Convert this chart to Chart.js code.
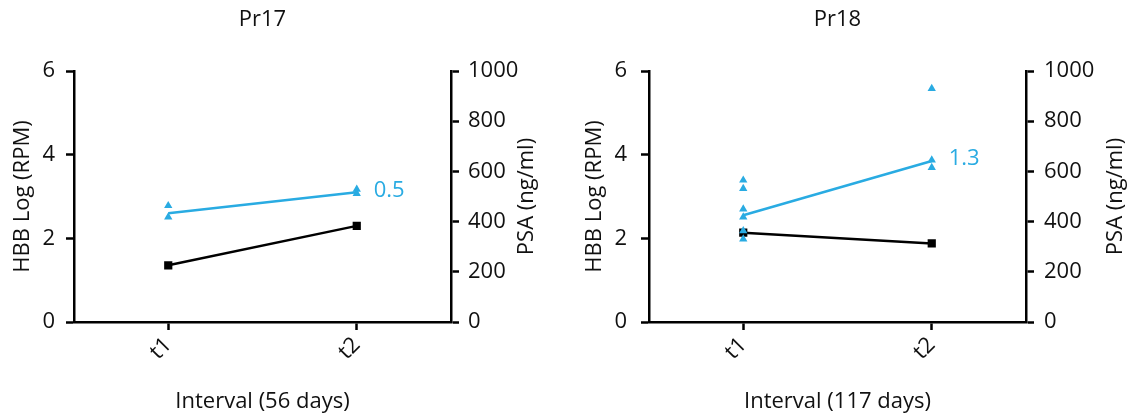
<!DOCTYPE html>
<html>
<head>
<meta charset="utf-8">
<script src="https://cdn.jsdelivr.net/npm/chart.js@4.4.1/dist/chart.umd.min.js"></script>
<style>
  html, body { margin: 0; padding: 0; background: #fff; }
  #wrap { position: relative; width: 1132px; height: 419px; }
  canvas { position: absolute; top: 0; }
  #pr17 { left: 0; }
  #pr18 { left: 566px; }
</style>
</head>
<body>
<div id="wrap">
  <canvas id="pr17" width="566" height="419"></canvas>
  <canvas id="pr18" width="566" height="419"></canvas>
</div>
<script>
const timepoints = ['t1', 't2'];
const hbbTicks = [0, 2, 4, 6];
const psaTicks = [0, 200, 400, 600, 800, 1000];

// Pr17: HBB replicates at each time point, line through their centre, PSA
const pr17HbbT1 = [2.78, 2.51];
const pr17HbbT2 = [3.17, 3.07];
const pr17HbbLine = [2.6, 3.1];
const pr17Psa = [226, 383];

// Pr18
const pr18HbbT1 = [3.39, 3.19, 2.70, 2.51, 2.18, 1.98];
const pr18HbbT2 = [5.58, 3.87, 3.69];
const pr18HbbLine = [2.55, 3.85];
const pr18Psa = [356, 313];

const BLUE = '#29abe2';
const INK = '#111';
const FONT = "'Open Sans', sans-serif";

Chart.defaults.font.family = FONT;
Chart.defaults.font.size = 22;
Chart.defaults.color = INK;

// titles above the plot, the right axis title (bottom-to-top) and the HBB change label
const annotate = {
  id: 'annotate',
  afterDraw(chart, args, opts) {
    const { ctx, chartArea } = chart;
    ctx.save();
    ctx.font = '22px ' + FONT;
    ctx.fillStyle = INK;
    ctx.textAlign = 'center';
    ctx.textBaseline = 'middle';
    ctx.fillText(opts.title, (chartArea.left + chartArea.right) / 2, opts.titleY);

    const line = chart.getDatasetMeta(1).data;
    const end = line[line.length - 1];
    ctx.fillStyle = BLUE;
    ctx.textAlign = 'left';
    ctx.fillText(opts.change, end.x + 17, end.y - 2);

    ctx.fillStyle = INK;
    ctx.textAlign = 'center';
    ctx.translate(opts.psaTitleX, (chartArea.top + chartArea.bottom) / 2);
    ctx.rotate(-Math.PI / 2);
    ctx.fillText('PSA (ng/ml)', 0, 0);
    ctx.restore();
  }
};

const axisGrid = {
  drawOnChartArea: false,
  drawTicks: true,
  tickLength: 8,
  tickColor: '#000',
  tickWidth: 2.5
};
const axisBorder = { color: '#000', width: 2.5 };
const plainNumber = v => String(v);

function drawPanel(id, title, xTitle, hbbT1, hbbT2, hbbLine, psa, box) {
  const replicates = [
    ...hbbT1.map(y => ({ x: timepoints[0], y })),
    ...hbbT2.map(y => ({ x: timepoints[1], y }))
  ];
  const change = (hbbLine[1] - hbbLine[0]).toFixed(1);

  new Chart(document.getElementById(id), {
    type: 'line',
    data: {
      labels: timepoints,
      datasets: [
        {
          label: 'HBB',
          data: replicates,
          yAxisID: 'hbb',
          showLine: false,
          pointStyle: 'triangle',
          pointRadius: 4.8,
          pointBackgroundColor: BLUE,
          pointBorderColor: BLUE,
          pointBorderWidth: 0,
          order: 0
        },
        {
          label: 'HBB centre',
          data: hbbLine,
          yAxisID: 'hbb',
          borderColor: BLUE,
          borderWidth: 2.5,
          pointRadius: 0,
          order: 1
        },
        {
          label: 'PSA',
          data: psa,
          yAxisID: 'psa',
          borderColor: '#000',
          borderWidth: 2.5,
          pointStyle: 'rect',
          pointRadius: 5.8,
          pointBackgroundColor: '#000',
          pointBorderColor: '#000',
          pointBorderWidth: 0,
          order: 2
        }
      ]
    },
    options: {
      responsive: false,
      animation: false,
      layout: { padding: { top: 71, left: 0, right: 0, bottom: 0 } },
      plugins: {
        legend: { display: false },
        tooltip: { enabled: false },
        annotate: { title, change, titleY: 20, psaTitleX: box.psaTitleX }
      },
      scales: {
        x: {
          type: 'category',
          offset: true,
          grid: axisGrid,
          border: axisBorder,
          ticks: { minRotation: 45, maxRotation: 45, padding: 2 },
          title: { display: true, text: xTitle, padding: { top: 0, bottom: 4 } },
          afterFit(s) { s.height = 97; }
        },
        hbb: {
          type: 'linear',
          position: 'left',
          min: 0,
          max: 6,
          afterBuildTicks(s) { s.ticks = hbbTicks.map(v => ({ value: v })); },
          grid: axisGrid,
          border: axisBorder,
          ticks: { padding: box.leftPad, callback: plainNumber },
          title: { display: true, text: 'HBB Log (RPM)', padding: { top: box.hbbTitlePad, bottom: 0 } },
          afterFit(s) { s.width = box.left; }
        },
        psa: {
          type: 'linear',
          position: 'right',
          min: 0,
          max: 1000,
          afterBuildTicks(s) { s.ticks = psaTicks.map(v => ({ value: v })); },
          grid: axisGrid,
          border: axisBorder,
          ticks: { padding: box.rightPad, callback: plainNumber },
          afterFit(s) { s.width = box.right; }
        }
      }
    },
    plugins: [annotate]
  });
}

drawPanel('pr17', 'Pr17', 'Interval (56 days)', pr17HbbT1, pr17HbbT2, pr17HbbLine, pr17Psa,
  { left: 74, right: 115, leftPad: 11, rightPad: 9, hbbTitlePad: 10, psaTitleX: 527 });
drawPanel('pr18', 'Pr18', 'Interval (117 days)', pr18HbbT1, pr18HbbT2, pr18HbbLine, pr18Psa,
  { left: 83, right: 106, leftPad: 14, rightPad: 10, hbbTitlePad: 16, psaTitleX: 550 });
</script>
</body>
</html>
